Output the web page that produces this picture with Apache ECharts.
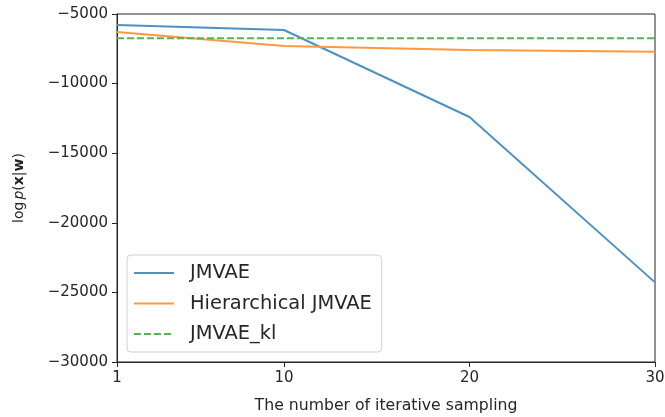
<!DOCTYPE html>
<html><head><meta charset="utf-8">
<script src="https://cdn.jsdelivr.net/npm/echarts@6/dist/echarts.min.js"></script>
<style>html,body{margin:0;padding:0;background:#fff}#c{width:665px;height:417px}</style>
</head><body><div id="c"></div>
<script>
const xValues = [1, 10, 20, 30];
const jmvae = [-5790, -6150, -12400, -24280];
const hierJmvae = [-6290, -7300, -7590, -7710];
const jmvaeKl = [-6750, -6750, -6750, -6750];
const xTicks = [1, 10, 20, 30];
const seriesNames = ['JMVAE', 'Hierarchical JMVAE', 'JMVAE_kl'];

const font = 'DejaVu Sans';
const chart = echarts.init(document.getElementById('c'), null, {renderer: 'canvas'});
const pair = (ys) => xValues.map((x, i) => [x, ys[i]]);
const ink = '#262626';
chart.setOption({
  animation: false,
  grid: {left: 117, top: 14, right: 10, bottom: 55, show: true, borderColor: ink, borderWidth: 1,
    backgroundColor: 'transparent', containLabel: false, outerBoundsMode: 'none'},
  legend: {
    orient: 'vertical', left: 127, top: 255,
    backgroundColor: 'rgba(255,255,255,0.8)', borderColor: '#d0d0d0', borderWidth: 1, borderRadius: 4,
    padding: [7, 10, 7, 6], itemWidth: 40, itemHeight: 12, itemGap: 8.5,
    itemStyle: {opacity: 0},
    textStyle: {fontFamily: font, fontSize: 19.4, color: ink, lineHeight: 22, padding: [0, 0, 0, 11]},
    data: seriesNames
  },
  xAxis: {
    type: 'value', min: 1, max: 30,
    name: 'The number of iterative sampling', nameLocation: 'middle', nameGap: 36,
    nameTextStyle: {fontFamily: font, fontSize: 15.7, color: ink},
    axisLine: {show: true, lineStyle: {color: ink, width: 1}},
    axisTick: {show: true, length: 5, customValues: xTicks, lineStyle: {color: ink}},
    axisLabel: {customValues: xTicks, fontFamily: font, fontSize: 15, color: ink, margin: 9},
    splitLine: {show: false}
  },
  yAxis: {
    type: 'value', min: -30000, max: -5000, interval: 5000,
    name: '{n|log}{i|p}{n|(}{b|x}{n||}{b|w}{n|)}', nameLocation: 'middle', nameGap: 91, nameRotate: 90,
    nameTextStyle: {fontFamily: font, fontSize: 14, color: ink,
      rich: {n: {fontFamily: font, fontSize: 14, color: ink},
             i: {fontFamily: font, fontSize: 14, fontStyle: 'italic', color: ink, padding: [0, 0, 0, 2]},
             b: {fontFamily: font, fontSize: 14, fontWeight: 'bold', color: ink}}},
    axisLine: {show: true, lineStyle: {color: ink, width: 1}},
    axisTick: {show: true, length: 5, lineStyle: {color: ink}},
    axisLabel: {fontFamily: font, fontSize: 15, color: ink, margin: 9,
      formatter: v => String(v).replace('-', '\u2212')},
    splitLine: {show: false}
  },
  series: [
    {name: seriesNames[0], type: 'line', data: pair(jmvae), symbol: 'none', color: '#4c92c3', lineStyle: {width: 2, color: '#4c92c3'}},
    {name: seriesNames[1], type: 'line', data: pair(hierJmvae), symbol: 'none', color: '#ff993e', lineStyle: {width: 2, color: '#ff993e'}},
    {name: seriesNames[2], type: 'line', data: pair(jmvaeKl), symbol: 'none', color: '#56b356', lineStyle: {width: 2, color: '#56b356', type: [7, 3]}}
  ]
});
</script></body></html>
